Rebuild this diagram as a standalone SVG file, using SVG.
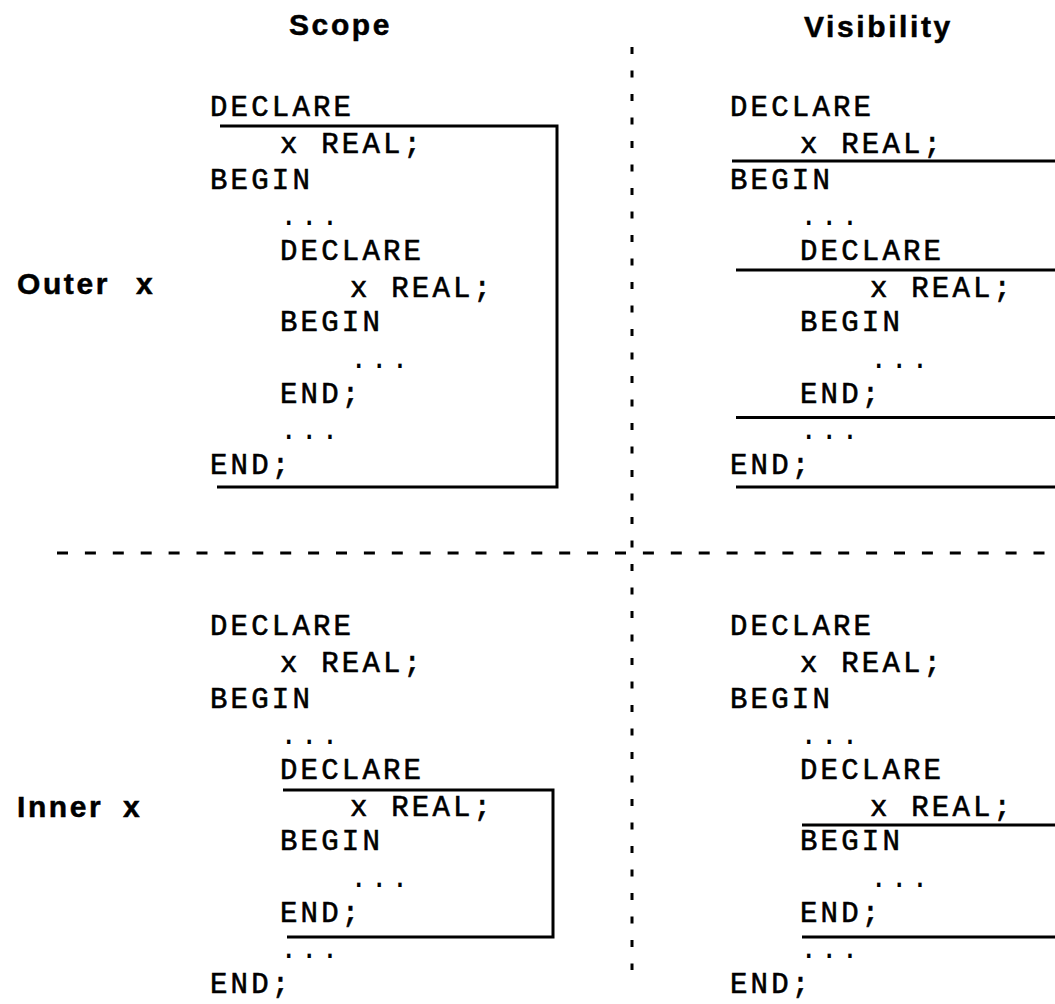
<svg xmlns="http://www.w3.org/2000/svg" width="1055" height="1004" viewBox="0 0 1055 1004">
  <style>
    .code { font-family: "Liberation Mono", "DejaVu Sans Mono", monospace; font-size: 29px; letter-spacing: 3.2px; fill: #000; stroke: #000; stroke-width: 0.6px; }
    .code .dots { stroke: none; }
    .head { font-family: "Liberation Sans", Arial, sans-serif; font-weight: bold; font-size: 30px; letter-spacing: 2.6px; fill: #000; stroke: #000; stroke-width: 0.5px; }
    .rule { fill: none; stroke: #000; stroke-width: 3; stroke-linejoin: miter; }
    .divider { fill: none; stroke: #000; stroke-width: 3; }
  </style>
  <rect width="1055" height="1004" fill="#fff"/>

  <!-- quadrant dividers -->
  <g id="dividers">
    <line class="divider" x1="632" y1="47" x2="632" y2="970" stroke-dasharray="7 16.5"/>
    <line class="divider" x1="57" y1="553" x2="1045" y2="553" stroke-dasharray="11 16.9"/>
  </g>

  <!-- column and row headings -->
  <g id="heading-scope"><text class="head" x="289" y="35">Scope</text></g>
  <g id="heading-visibility"><text class="head" x="804" y="36.5">Visibility</text></g>
  <g id="label-outer"><text class="head" x="17" y="293.5">Outer <tspan x="136">x</tspan></text></g>
  <g id="label-inner"><text class="head" x="17" y="816.5">Inner <tspan x="123">x</tspan></text></g>

  <!-- scope of the outer x: the whole outer block after its declaration -->
  <g id="scope-outer">
    <path class="rule" d="M220 126H557V487H217"/>
    <g class="code">
      <text x="210" y="116">DECLARE</text>
      <text x="280" y="153">x REAL;</text>
      <text x="210" y="189">BEGIN</text>
      <text class="dots" x="280" y="225">...</text>
      <text x="280" y="260">DECLARE</text>
      <text x="350" y="296.5">x REAL;</text>
      <text x="280" y="331">BEGIN</text>
      <text class="dots" x="350" y="368">...</text>
      <text x="280" y="403">END;</text>
      <text class="dots" x="280" y="438.5">...</text>
      <text x="210" y="473.5">END;</text>
    </g>
  </g>

  <!-- visibility of the outer x: hidden inside the inner block -->
  <g id="visibility-outer">
    <line class="rule" x1="732" y1="161" x2="1055" y2="161"/>
    <line class="rule" x1="736" y1="270" x2="1055" y2="270"/>
    <line class="rule" x1="736" y1="417.5" x2="1055" y2="417.5"/>
    <line class="rule" x1="736" y1="487" x2="1055" y2="487"/>
    <g class="code">
      <text x="730" y="116">DECLARE</text>
      <text x="800" y="153">x REAL;</text>
      <text x="730" y="189">BEGIN</text>
      <text class="dots" x="800" y="225">...</text>
      <text x="800" y="260">DECLARE</text>
      <text x="870" y="296.5">x REAL;</text>
      <text x="800" y="331">BEGIN</text>
      <text class="dots" x="870" y="368">...</text>
      <text x="800" y="403">END;</text>
      <text class="dots" x="800" y="438.5">...</text>
      <text x="730" y="473.5">END;</text>
    </g>
  </g>

  <!-- scope of the inner x -->
  <g id="scope-inner" transform="translate(0 519)">
    <path class="rule" d="M283 271H553V418H287"/>
    <g class="code">
      <text x="210" y="116">DECLARE</text>
      <text x="280" y="153">x REAL;</text>
      <text x="210" y="189">BEGIN</text>
      <text class="dots" x="280" y="225">...</text>
      <text x="280" y="260">DECLARE</text>
      <text x="350" y="296.5">x REAL;</text>
      <text x="280" y="331">BEGIN</text>
      <text class="dots" x="350" y="368">...</text>
      <text x="280" y="403">END;</text>
      <text class="dots" x="280" y="438.5">...</text>
      <text x="210" y="473.5">END;</text>
    </g>
  </g>

  <!-- visibility of the inner x -->
  <g id="visibility-inner" transform="translate(0 519)">
    <line class="rule" x1="802" y1="306" x2="1055" y2="306"/>
    <line class="rule" x1="802" y1="418" x2="1055" y2="418"/>
    <g class="code">
      <text x="730" y="116">DECLARE</text>
      <text x="800" y="153">x REAL;</text>
      <text x="730" y="189">BEGIN</text>
      <text class="dots" x="800" y="225">...</text>
      <text x="800" y="260">DECLARE</text>
      <text x="870" y="296.5">x REAL;</text>
      <text x="800" y="331">BEGIN</text>
      <text class="dots" x="870" y="368">...</text>
      <text x="800" y="403">END;</text>
      <text class="dots" x="800" y="438.5">...</text>
      <text x="730" y="473.5">END;</text>
    </g>
  </g>
</svg>
